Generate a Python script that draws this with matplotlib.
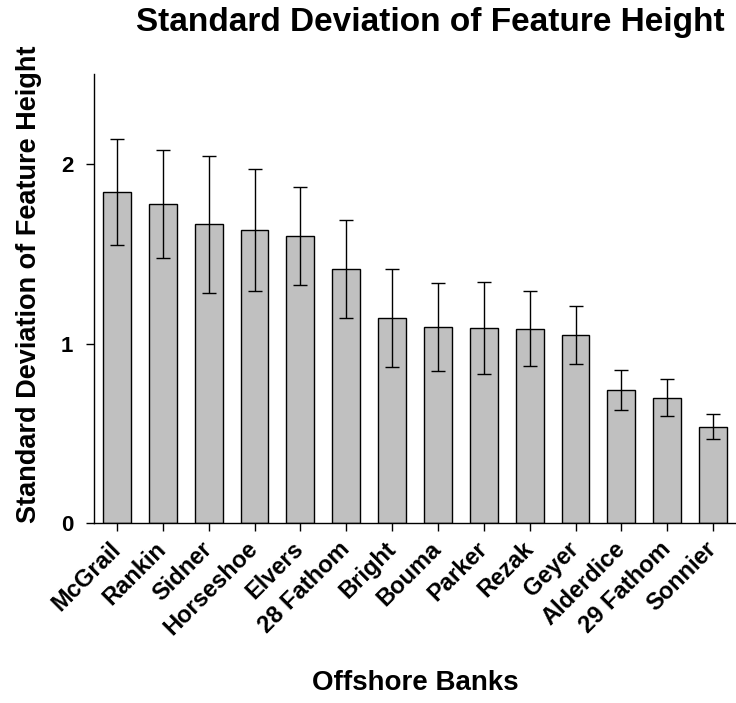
import matplotlib
matplotlib.use("Agg")
import matplotlib.pyplot as plt
import numpy as np

# 데이터
banks = ["McGrail", "Rankin", "Sidner", "Horseshoe", "Elvers", "28 Fathom", "Bright",
         "Bouma", "Parker", "Rezak", "Geyer", "Alderdice", "29 Fathom", "Sonnier"]
sd_height = [1.843, 1.778, 1.663, 1.631, 1.598, 1.414, 1.141,
             1.091, 1.087, 1.083, 1.047, 0.742, 0.699, 0.538]
sd_error = [0.295, 0.300, 0.382, 0.338, 0.271, 0.273, 0.273,
            0.244, 0.257, 0.210, 0.163, 0.110, 0.103, 0.070]

plt.rcParams["font.family"] = ["Liberation Sans", "DejaVu Sans"]
plt.rcParams["font.weight"] = "bold"

W, H = 736, 703
fig = plt.figure(figsize = (W / 100, H / 100), dpi = 100)
ax = fig.add_axes([94 / W, (H - 523.3) / H, (W - 94) / W, (523.3 - 74) / H])

x = np.arange(len(banks))
ax.bar(x, sd_height, width = 0.61, color = "#c0c0c0", edgecolor = "black", linewidth = 1.0,
       yerr = sd_error, capsize = 4.7, error_kw = {"elinewidth": 1.0, "capthick": 1.0, "ecolor": "black"})

ax.set_xlim(-0.5, 13.5)
ax.set_ylim(0, 2.5)
ax.set_yticks([0, 1, 2])
ax.set_xticks(x)
ax.set_xticklabels(banks, rotation = 45, ha = "right", va = "center", rotation_mode = "anchor",
                   fontsize = 17, fontweight = "bold")
ax.tick_params(axis = "y", labelsize = 16, length = 6, width = 1.0, direction = "out", pad = 9)
ax.tick_params(axis = "x", length = 6, width = 1.0, direction = "out", pad = 10)
for lbl in ax.get_yticklabels():
    lbl.set_fontweight("bold")

ax.spines["top"].set_visible(False)
ax.spines["right"].set_visible(False)
ax.spines["left"].set_linewidth(1.0)
ax.spines["bottom"].set_linewidth(1.0)

# 축 제목과 전체 제목 위치는 픽셀 기준으로 지정
fig.text(29 / W, 1 - 284 / H, "Standard Deviation of Feature Height", rotation = 90,
         ha = "center", va = "center", fontsize = 19.5, fontweight = "bold")
fig.text(415 / W, 1 - 690 / H, "Offshore Banks", ha = "center", va = "baseline",
         fontsize = 20, fontweight = "bold")
fig.text(430 / W, 1 - 31 / H, "Standard Deviation of Feature Height", ha = "center", va = "baseline",
         fontsize = 24, fontweight = "bold")

fig.savefig("out.png", dpi = 100)
